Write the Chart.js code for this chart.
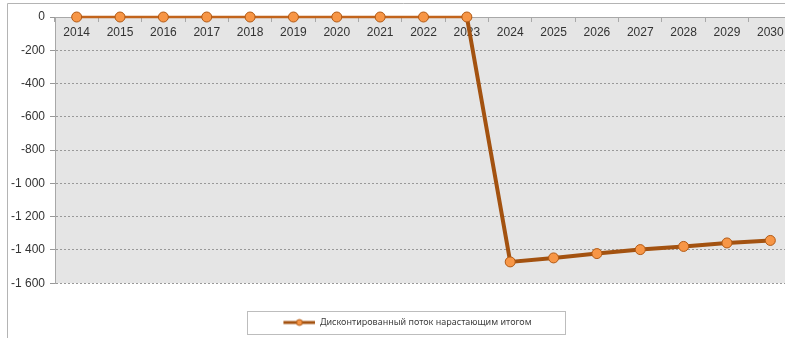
<!DOCTYPE html>
<html>
<head>
<meta charset="utf-8">
<script src="https://cdn.jsdelivr.net/npm/chart.js@4/dist/chart.umd.min.js"></script>
<style>
    html, body { margin: 0; padding: 0; background: #fff; overflow: hidden; }
    #wrap { width: 800px; height: 338px; position: relative; }
</style>
</head>
<body>
<div id="wrap"><canvas id="flowChart"></canvas></div>
<script>
// Years and cumulative discounted flow
var years = ['2014', '2015', '2016', '2017', '2018', '2019', '2020', '2021', '2022',
             '2023', '2024', '2025', '2026', '2027', '2028', '2029', '2030'];
var cumulativeFlow = [0, 0, 0, 0, 0, 0, 0, 0, 0, 0,
                      -1472, -1448, -1422, -1398, -1379, -1358, -1343];
var seriesName = 'Дисконтированный поток нарастающим итогом';
var yMin = -1600;
var yMax = 0;
var yStep = 200;

var lineColor = '#a35210';
var pointFill = '#f79646';
var pointEdge = '#b35a14';

// Legend marker: short line with a circle in the middle (blank lead-in on the left)
var marker = document.createElement('canvas');
marker.width = 48;
marker.height = 10;
(function() {
    var m = marker.getContext('2d');
    m.strokeStyle = lineColor;
    m.lineWidth = 3;
    m.beginPath();
    m.moveTo(16, 5);
    m.lineTo(48, 5);
    m.stroke();
    m.beginPath();
    m.arc(32, 5, 3, 0, Math.PI * 2);
    m.fillStyle = pointFill;
    m.fill();
    m.lineWidth = 1;
    m.strokeStyle = pointEdge;
    m.stroke();
})();

function spaceThousands(v) {
    return String(v).replace(/\B(?=(\d{3})+(?!\d))/g, ' ');
}

// Grey plot background plus the outer frame lines
var backdrop = {
    id: 'backdrop',
    beforeDraw: function(chart) {
        var ctx = chart.ctx;
        var a = chart.chartArea;
        ctx.save();
        ctx.fillStyle = '#e5e5e5';
        ctx.fillRect(a.left, a.top, a.right - a.left, a.bottom - a.top);
        ctx.strokeStyle = '#b4b4b4';
        ctx.lineWidth = 1;
        ctx.beginPath();
        ctx.moveTo(7.5, 338);
        ctx.lineTo(7.5, 3.5);
        ctx.lineTo(chart.width, 3.5);
        ctx.stroke();
        ctx.restore();
    },
    // framed box round the legend entry
    afterDraw: function(chart) {
        var boxes = chart.legend && chart.legend.legendHitBoxes;
        if (!boxes || !boxes.length) return;
        var hb = boxes[0];
        var cx = hb.left + hb.width / 2 + 6;
        var cy = hb.top + hb.height / 2;
        var ctx = chart.ctx;
        ctx.save();
        ctx.strokeStyle = '#bdbdbd';
        ctx.lineWidth = 1;
        ctx.strokeRect(Math.round(cx - 159) + 0.5, Math.round(cy - 11.5) + 0.5, 318, 23);
        ctx.restore();
    }
};

// segments lying along the top edge look thinner, half hidden by the axis
function atTop(c) {
    return c.p0.parsed.y === yMax && c.p1.parsed.y === yMax;
}

var ctx = document.getElementById('flowChart').getContext('2d');
var flowChart = new Chart(ctx, {
    type: 'line',
    data: {
        labels: years,
        datasets: [{
            label: seriesName,
            data: cumulativeFlow,
            borderColor: lineColor,
            borderWidth: 4,
            backgroundColor: pointFill,
            pointBackgroundColor: pointFill,
            pointBorderColor: pointEdge,
            pointBorderWidth: 1,
            pointRadius: 5,
            pointHoverRadius: 5,
            tension: 0,
            fill: false,
            clip: false,
            segment: {
                borderWidth: function(c) { return atTop(c) ? 2.5 : undefined; },
                borderColor: function(c) { return atTop(c) ? '#c2641c' : undefined; }
            }
        }]
    },
    plugins: [backdrop],
    options: {
        responsive: true,
        maintainAspectRatio: false,
        animation: false,
        layout: {
            padding: { left: 7, top: 17, right: 8, bottom: 1 }
        },
        plugins: {
            legend: {
                position: 'bottom',
                title: {
                    display: true,
                    text: ' ',
                    padding: { top: 21, bottom: 0 },
                    font: { size: 9 }
                },
                labels: {
                    usePointStyle: true,
                    pointStyle: marker,
                    pointStyleWidth: 48,
                    padding: 3,
                    color: '#404040',
                    font: { family: '"Noto Sans", sans-serif', size: 9 }
                }
            },
            tooltip: { enabled: false }
        },
        scales: {
            x: {
                position: { y: 0 },
                offset: true,
                grid: {
                    offset: true,
                    drawOnChartArea: false,
                    drawTicks: true,
                    tickLength: 4,
                    color: '#a8a8a8'
                },
                border: { color: '#a8a8a8' },
                ticks: {
                    padding: 4,
                    color: '#333',
                    maxRotation: 0,
                    autoSkip: false,
                    font: { family: '"Liberation Sans", Arial, sans-serif', size: 12 }
                }
            },
            y: {
                min: yMin,
                max: yMax,
                afterFit: function(scale) { scale.width = 48; },
                grid: {
                    color: '#999',
                    tickLength: 5,
                    tickColor: '#999'
                },
                border: { color: '#a8a8a8', dash: [2, 2] },
                ticks: {
                    stepSize: yStep,
                    padding: 5,
                    color: '#333',
                    font: { family: '"Liberation Sans", Arial, sans-serif', size: 12 },
                    callback: function(value) { return spaceThousands(value); }
                }
            }
        }
    }
});
</script>
</body>
</html>
